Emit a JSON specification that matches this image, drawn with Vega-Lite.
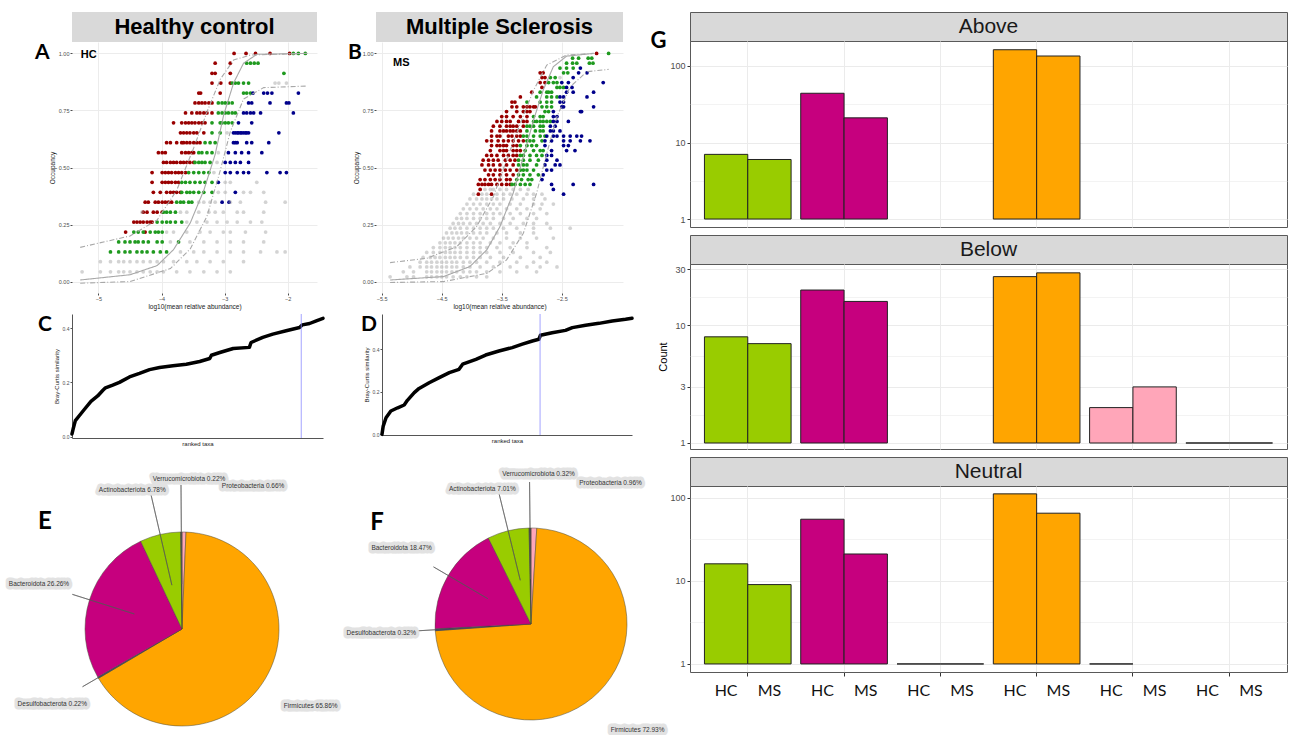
{
"$schema": "https://vega.github.io/schema/vega-lite/v6.json",
"background": "white",
"padding": {"left": 8, "top": 11, "right": 0, "bottom": 0},
"config": {"font": "Liberation Sans", "view": {"stroke": null}, "axis": {"labelFont": "Liberation Sans", "titleFont": "Liberation Sans"}},
"datasets": {
"scA": [
{"o":1,"c":"Above","x":[-2.85,-2.66,-2.51,-2.28,-1.97]},
{"o":1,"c":"Neutral","x":[-1.91,-1.83,-1.72]},
{"o":0.957,"c":"Above","x":[-3.15,-2.91]},
{"o":0.957,"c":"Neutral","x":[-2.65,-2.59,-2.53,-2.47]},
{"o":0.913,"c":"Above","x":[-3.2,-3.15,-2.91]},
{"o":0.913,"c":"Neutral","x":[-2.06]},
{"o":0.87,"c":"Above","x":[-3.2,-3.06,-2.91]},
{"o":0.87,"c":"Neutral","x":[-2.88,-2.83,-2.78,-2.7,-2.62]},
{"o":0.87,"c":"Non-core","x":[-2.2,-2.14,-2.02]},
{"o":0.826,"c":"Above","x":[-3.41,-3.38,-3.07]},
{"o":0.826,"c":"Neutral","x":[-2.7,-2.65,-2.59]},
{"o":0.826,"c":"Below","x":[-2.55,-2.38,-2.32,-2.25,-1.83]},
{"o":0.783,"c":"Above","x":[-3.47,-3.41,-3.36,-3.31,-3.25,-3.2]},
{"o":0.783,"c":"Neutral","x":[-3.1,-3.04,-2.99,-2.94,-2.88]},
{"o":0.783,"c":"Below","x":[-2.62,-2.57,-2.28,-2.02,-1.98]},
{"o":0.739,"c":"Above","x":[-3.62,-3.52,-3.44,-3.39,-3.33,-3.28,-3.2]},
{"o":0.739,"c":"Neutral","x":[-3.1,-3.04,-2.99,-2.94,-2.88,-2.83]},
{"o":0.739,"c":"Below","x":[-2.7,-2.65,-2.59,-2.54,-2.43,-1.91]},
{"o":0.696,"c":"Above","x":[-3.81,-3.68,-3.62,-3.57,-3.52,-3.47,-3.41,-3.36,-3.31]},
{"o":0.696,"c":"Neutral","x":[-3.2,-3.07,-3.04,-2.99,-2.94,-2.88]},
{"o":0.696,"c":"Below","x":[-2.78,-2.57]},
{"o":0.652,"c":"Above","x":[-3.7,-3.65,-3.6,-3.55,-3.49,-3.44,-3.33]},
{"o":0.652,"c":"Neutral","x":[-3.2,-3.07]},
{"o":0.652,"c":"Non-core","x":[-2.96]},
{"o":0.652,"c":"Below","x":[-2.86,-2.83,-2.8,-2.78,-2.75,-2.73,-2.7,-2.67,-2.65,-2.62,-2.14]},
{"o":0.609,"c":"Above","x":[-3.92,-3.86,-3.76,-3.68,-3.65,-3.6,-3.55,-3.49,-3.44,-3.39]},
{"o":0.609,"c":"Neutral","x":[-3.31,-3.23,-3.15]},
{"o":0.609,"c":"Below","x":[-2.86,-2.83,-2.8,-2.65,-2.57,-2.3]},
{"o":0.565,"c":"Above","x":[-4.05,-3.99,-3.94,-3.68,-3.62,-3.57,-3.52,-3.49]},
{"o":0.565,"c":"Neutral","x":[-3.41,-3.36,-3.28,-3.2]},
{"o":0.565,"c":"Non-core","x":[-3.1]},
{"o":0.565,"c":"Below","x":[-2.94,-2.83,-2.73,-2.62,-2.41]},
{"o":0.522,"c":"Above","x":[-3.97,-3.92,-3.86,-3.81,-3.76,-3.7,-3.65,-3.6,-3.55,-3.49]},
{"o":0.522,"c":"Neutral","x":[-3.47,-3.41,-3.36,-3.31,-3.23]},
{"o":0.522,"c":"Non-core","x":[-3.12]},
{"o":0.522,"c":"Below","x":[-2.99,-2.91,-2.83,-2.75,-2.62]},
{"o":0.478,"c":"Above","x":[-4.15,-3.99,-3.94,-3.89,-3.84,-3.78,-3.73,-3.68,-3.62]},
{"o":0.478,"c":"Neutral","x":[-3.57,-3.49,-3.41,-3.33,-3.25]},
{"o":0.478,"c":"Non-core","x":[-3.17]},
{"o":0.478,"c":"Below","x":[-2.99,-2.91,-2.8,-2.7,-2.62,-2.33,-2.12,-2.02]},
{"o":0.435,"c":"Above","x":[-4.15,-3.99,-3.94,-3.89,-3.84,-3.78,-3.73]},
{"o":0.435,"c":"Neutral","x":[-3.68,-3.62,-3.55,-3.47,-3.39,-3.31,-3.2]},
{"o":0.435,"c":"Below","x":[-3.1]},
{"o":0.435,"c":"Non-core","x":[-2.99,-2.91,-2.49]},
{"o":0.391,"c":"Above","x":[-4.13,-4.02,-3.92,-3.86,-3.81,-3.76,-3.7]},
{"o":0.391,"c":"Neutral","x":[-3.68,-3.6,-3.55,-3.49,-3.41,-3.33,-3.2]},
{"o":0.391,"c":"Below","x":[-2.83]},
{"o":0.391,"c":"Non-core","x":[-3.1,-2.99,-2.7,-2.59,-2.38]},
{"o":0.348,"c":"Above","x":[-4.26,-4.21,-4.1,-4.05,-3.99,-3.94,-3.89,-3.84]},
{"o":0.348,"c":"Neutral","x":[-3.76,-3.7,-3.65,-3.57,-3.52]},
{"o":0.348,"c":"Below","x":[-3.04,-2.93]},
{"o":0.348,"c":"Non-core","x":[-3.41,-3.33,-3.23,-3.15,-2.91,-2.75,-2.35,-2.04]},
{"o":0.304,"c":"Above","x":[-4.29,-4.23,-4.13,-4.07,-3.99]},
{"o":0.304,"c":"Neutral","x":[-3.97,-3.92,-3.86,-3.78]},
{"o":0.304,"c":"Non-core","x":[-4.31,-3.7,-3.6,-3.41,-3.25,-3.15,-3.02,-2.8,-2.7,-2.38]},
{"o":0.261,"c":"Above","x":[-4.44,-4.39,-4.34,-4.29,-4.23,-4.18,-4.15]},
{"o":0.261,"c":"Neutral","x":[-4.07,-3.99,-3.92,-3.86,-3.78,-3.68]},
{"o":0.261,"c":"Non-core","x":[-3.6,-3.44,-3.28,-3.12,-2.96,-2.8,-2.59,-2.41]},
{"o":0.217,"c":"Above","x":[-4.57,-4.26]},
{"o":0.217,"c":"Neutral","x":[-4.44,-4.37,-4.29,-4.18,-4.1,-4.05,-3.99]},
{"o":0.217,"c":"Non-core","x":[-3.92,-3.81,-3.6,-3.39,-3.23,-3.02,-2.91,-2.67,-2.35]},
{"o":0.174,"c":"Neutral","x":[-4.68,-4.58,-4.5,-4.42,-4.37,-4.29,-4.21,-4.07,-3.99,-3.73]},
{"o":0.174,"c":"Non-core","x":[-3.86,-3.55,-3.33,-3.12,-2.91,-2.7,-2.38]},
{"o":0.13,"c":"Neutral","x":[-4.81,-4.68,-4.58,-4.5,-4.39,-4.31,-4.23,-4.13,-4.02,-3.92]},
{"o":0.13,"c":"Non-core","x":[-3.7,-3.49,-3.33,-3.12,-2.91,-2.7,-2.43,-2.17,-2.04]},
{"o":0.087,"c":"Non-core","x":[-4.97,-4.81,-4.68,-4.6,-4.5,-4.39,-4.29,-4.18,-4.07,-3.97,-3.81,-3.6,-3.44,-3.23,-3.02,-2.7]},
{"o":0.043,"c":"Non-core","x":[-5.26,-4.97,-4.81,-4.68,-4.6,-4.5,-4.39,-4.29,-4.18,-4.07,-3.97,-3.76,-3.55,-3.33,-3.12,-2.91]}
],
"scB": [
{"o":1,"c":"Above","x":[-1.92]},
{"o":1,"c":"Neutral","x":[-1.72]},
{"o":0.979,"c":"Neutral","x":[-2.32,-2.22,-2.06,-2.0]},
{"o":0.957,"c":"Neutral","x":[-2.42,-2.32,-2.25,-2.04,-1.98]},
{"o":0.936,"c":"Neutral","x":[-2.53,-2.42,-2.31]},
{"o":0.936,"c":"Below","x":[-2.19]},
{"o":0.915,"c":"Above","x":[-2.86,-2.81]},
{"o":0.915,"c":"Neutral","x":[-2.47,-2.4]},
{"o":0.915,"c":"Below","x":[-2.22,-2.08]},
{"o":0.894,"c":"Above","x":[-2.83,-2.78]},
{"o":0.894,"c":"Neutral","x":[-2.69,-2.61]},
{"o":0.894,"c":"Non-core","x":[-2.53]},
{"o":0.894,"c":"Below","x":[-2.31]},
{"o":0.872,"c":"Above","x":[-2.86,-2.78]},
{"o":0.872,"c":"Neutral","x":[-2.72,-2.64,-2.58]},
{"o":0.872,"c":"Below","x":[-2.5,-2.39,-1.81]},
{"o":0.851,"c":"Above","x":[-2.83]},
{"o":0.851,"c":"Neutral","x":[-2.58,-2.53,-2.47]},
{"o":0.851,"c":"Below","x":[-2.42,-2.33]},
{"o":0.83,"c":"Above","x":[-3.0]},
{"o":0.83,"c":"Neutral","x":[-2.86,-2.75,-2.72,-2.67]},
{"o":0.83,"c":"Below","x":[-2.42,-2.31,-1.97]},
{"o":0.809,"c":"Above","x":[-3.19]},
{"o":0.809,"c":"Neutral","x":[-2.92,-2.75,-2.67,-2.58]},
{"o":0.809,"c":"Below","x":[-2.53,-2.47,-2.08]},
{"o":0.787,"c":"Above","x":[-3.33,-3.28]},
{"o":0.787,"c":"Neutral","x":[-3.08,-2.86,-2.75,-2.67]},
{"o":0.787,"c":"Below","x":[-2.53,-2.47]},
{"o":0.766,"c":"Above","x":[-3.33,-3.25,-3.14,-3.08,-3.03,-2.97,-2.94]},
{"o":0.766,"c":"Neutral","x":[-2.83,-2.75,-2.67]},
{"o":0.766,"c":"Below","x":[-2.5,-2.47,-1.97]},
{"o":0.745,"c":"Above","x":[-3.42,-3.25,-3.14,-3.08,-3.03]},
{"o":0.745,"c":"Neutral","x":[-2.78,-2.72]},
{"o":0.745,"c":"Below","x":[-2.64,-2.19,-2.17]},
{"o":0.723,"c":"Above","x":[-3.5,-3.42,-3.31,-3.19,-3.08]},
{"o":0.723,"c":"Neutral","x":[-2.97,-2.86,-2.81]},
{"o":0.723,"c":"Below","x":[-2.64,-2.58]},
{"o":0.702,"c":"Above","x":[-3.58,-3.5,-3.42,-3.36,-3.22,-3.14,-3.08]},
{"o":0.702,"c":"Neutral","x":[-2.97,-2.92,-2.86,-2.81,-2.75,-2.69]},
{"o":0.702,"c":"Below","x":[-2.64,-2.58,-2.39]},
{"o":0.681,"c":"Above","x":[-3.64,-3.53,-3.42,-3.36,-3.31,-3.25,-3.14]},
{"o":0.681,"c":"Neutral","x":[-3.08,-3.03,-2.97,-2.86,-2.81]},
{"o":0.681,"c":"Below","x":[-2.69,-2.61]},
{"o":0.66,"c":"Above","x":[-3.67,-3.53,-3.47,-3.42,-3.36,-3.31,-3.25,-3.19]},
{"o":0.66,"c":"Neutral","x":[-3.08,-2.94,-2.86,-2.81]},
{"o":0.66,"c":"Below","x":[-2.69,-2.64,-2.53]},
{"o":0.638,"c":"Above","x":[-3.67,-3.58,-3.53,-3.39,-3.33,-3.25,-3.19]},
{"o":0.638,"c":"Neutral","x":[-3.14,-3.08,-2.97,-2.86,-2.78]},
{"o":0.638,"c":"Below","x":[-2.75,-2.64,-2.58,-2.47,-2.36,-2.25,-2.17]},
{"o":0.617,"c":"Above","x":[-3.75,-3.67,-3.56,-3.47,-3.39,-3.31,-3.22,-3.14]},
{"o":0.617,"c":"Neutral","x":[-3.08,-3.03,-2.97,-2.83]},
{"o":0.617,"c":"Below","x":[-2.78,-2.67,-2.47,-2.36,-2.19,-2.03]},
{"o":0.596,"c":"Above","x":[-3.67,-3.58,-3.53,-3.47,-3.42,-3.31,-3.25]},
{"o":0.596,"c":"Neutral","x":[-3.19,-3.08,-3.0,-2.92]},
{"o":0.596,"c":"Below","x":[-2.78,-2.47,-2.39]},
{"o":0.574,"c":"Above","x":[-3.69,-3.53,-3.47,-3.42,-3.31,-3.25,-3.19]},
{"o":0.574,"c":"Neutral","x":[-3.11,-2.97,-2.86,-2.81]},
{"o":0.574,"c":"Below","x":[-2.67,-2.42,-2.28]},
{"o":0.553,"c":"Above","x":[-3.75,-3.67,-3.58,-3.47,-3.39,-3.31,-3.25]},
{"o":0.553,"c":"Neutral","x":[-3.19,-3.14,-3.03,-2.92,-2.83]},
{"o":0.553,"c":"Below","x":[-2.75,-2.67]},
{"o":0.532,"c":"Above","x":[-3.81,-3.72,-3.64,-3.56,-3.44,-3.36,-3.28]},
{"o":0.532,"c":"Neutral","x":[-3.22,-3.14,-3.03,-2.89]},
{"o":0.532,"c":"Below","x":[-2.75,-2.58]},
{"o":0.511,"c":"Above","x":[-3.83,-3.72,-3.64,-3.53,-3.42,-3.31]},
{"o":0.511,"c":"Neutral","x":[-3.22,-3.14,-3.08,-2.92]},
{"o":0.511,"c":"Below","x":[-2.78,-2.61,-2.53]},
{"o":0.489,"c":"Above","x":[-3.78,-3.69,-3.61,-3.53,-3.44,-3.36,-3.25]},
{"o":0.489,"c":"Neutral","x":[-3.19,-3.14,-3.08,-2.97]},
{"o":0.489,"c":"Below","x":[-2.75,-2.67]},
{"o":0.468,"c":"Above","x":[-3.72,-3.64,-3.53,-3.42,-3.31]},
{"o":0.468,"c":"Neutral","x":[-3.22,-3.14,-3.03,-2.89]},
{"o":0.468,"c":"Below","x":[-2.81]},
{"o":0.447,"c":"Above","x":[-3.86,-3.78,-3.69,-3.61,-3.53,-3.42,-3.36]},
{"o":0.447,"c":"Neutral","x":[-3.25,-3.17,-3.06,-3.0]},
{"o":0.447,"c":"Below","x":[-2.83]},
{"o":0.426,"c":"Above","x":[-3.89,-3.83,-3.78,-3.72,-3.67,-3.58,-3.5,-3.42,-3.36]},
{"o":0.426,"c":"Neutral","x":[-3.33,-3.28,-3.19,-3.11,-3.03]},
{"o":0.426,"c":"Below","x":[-2.67,-2.31,-1.97]},
{"o":0.404,"c":"Above","x":[-3.86]},
{"o":0.404,"c":"Non-core","x":[-3.78,-3.69,-3.64,-3.53,-3.42,-3.31,-3.19,-3.06]},
{"o":0.404,"c":"Below","x":[-2.64]},
{"o":0.383,"c":"Above","x":[-3.89,-3.67]},
{"o":0.383,"c":"Non-core","x":[-3.97,-3.83,-3.75,-3.58,-3.47,-3.36,-3.25,-3.08,-2.97,-2.83]},
{"o":0.383,"c":"Below","x":[-2.47]},
{"o":0.362,"c":"Non-core","x":[-4.03,-3.92,-3.83,-3.75,-3.67,-3.58,-3.47,-3.33,-3.14,-2.97,-2.78]},
{"o":0.34,"c":"Non-core","x":[-4.08,-3.97,-3.86,-3.75,-3.64,-3.53,-3.36,-3.19,-2.97,-2.83,-2.64]},
{"o":0.319,"c":"Non-core","x":[-4.14,-4.03,-3.92,-3.81,-3.69,-3.58,-3.42,-3.25,-3.08,-2.86]},
{"o":0.298,"c":"Non-core","x":[-4.19,-4.08,-3.97,-3.86,-3.75,-3.64,-3.53,-3.36,-3.19,-2.97,-2.75]},
{"o":0.277,"c":"Non-core","x":[-4.25,-4.17,-4.08,-3.97,-3.86,-3.75,-3.64,-3.47,-3.31,-3.08,-2.92]},
{"o":0.255,"c":"Non-core","x":[-4.31,-4.22,-4.14,-4.03,-3.92,-3.81,-3.69,-3.53,-3.36,-3.14,-2.97,-2.75]},
{"o":0.234,"c":"Non-core","x":[-4.36,-4.28,-4.19,-4.08,-3.97,-3.86,-3.75,-3.64,-3.47,-3.25,-2.97,-2.69,-2.36]},
{"o":0.213,"c":"Non-core","x":[-4.42,-4.33,-4.25,-4.17,-4.08,-3.97,-3.86,-3.75,-3.58,-3.42,-3.19,-2.97]},
{"o":0.191,"c":"Non-core","x":[-4.47,-4.39,-4.31,-4.22,-4.14,-4.03,-3.92,-3.81,-3.64,-3.42,-3.19,-2.92,-2.64]},
{"o":0.17,"c":"Non-core","x":[-4.53,-4.44,-4.36,-4.28,-4.19,-4.08,-3.97,-3.86,-3.69,-3.53,-3.31,-3.08]},
{"o":0.149,"c":"Non-core","x":[-4.64,-4.53,-4.44,-4.36,-4.28,-4.19,-4.08,-3.97,-3.86,-3.75,-3.58,-3.36,-3.08,-2.75]},
{"o":0.128,"c":"Non-core","x":[-4.75,-4.64,-4.53,-4.44,-4.36,-4.28,-4.19,-4.08,-3.97,-3.86,-3.75,-3.53,-3.31,-2.97,-2.69]},
{"o":0.106,"c":"Non-core","x":[-4.81,-4.69,-4.61,-4.53,-4.44,-4.36,-4.28,-4.19,-4.08,-3.97,-3.86,-3.69,-3.47,-3.19,-2.86]},
{"o":0.085,"c":"Non-core","x":[-4.86,-4.75,-4.67,-4.58,-4.5,-4.42,-4.33,-4.25,-4.14,-4.03,-3.92,-3.75,-3.53,-3.25,-2.97,-2.75]},
{"o":0.064,"c":"Non-core","x":[-5.03,-4.86,-4.75,-4.67,-4.58,-4.5,-4.42,-4.33,-4.25,-4.14,-4.03,-3.86,-3.64,-3.36,-3.08,-2.86,-2.58]},
{"o":0.043,"c":"Non-core","x":[-5.14,-4.97,-4.75,-4.67,-4.58,-4.5,-4.42,-4.33,-4.25,-4.14,-4.03,-3.92,-3.75,-3.53,-3.25,-2.92]},
{"o":0.021,"c":"Non-core","x":[-5.36,-5.08,-4.97,-4.75,-4.67,-4.58,-4.5,-4.42,-4.31,-4.19,-4.08,-3.92,-3.75]}
],
"crvA": [
{"s":"fit","x":-5.29,"y":0.007},{"s":"fit","x":-4.5,"y":0.03},{"s":"fit","x":-4.07,"y":0.07},{"s":"fit","x":-3.81,"y":0.14},{"s":"fit","x":-3.545,"y":0.257},{"s":"fit","x":-3.33,"y":0.4},{"s":"fit","x":-3.15,"y":0.557},{"s":"fit","x":-3.016,"y":0.729},{"s":"fit","x":-2.857,"y":0.871},{"s":"fit","x":-2.7,"y":0.957},{"s":"fit","x":-2.487,"y":0.996},{"s":"fit","x":-1.69,"y":1.0},
{"s":"upper","x":-5.29,"y":0.15},{"s":"upper","x":-4.5,"y":0.2},{"s":"upper","x":-4.07,"y":0.27},{"s":"upper","x":-3.76,"y":0.4},{"s":"upper","x":-3.49,"y":0.586},{"s":"upper","x":-3.28,"y":0.743},{"s":"upper","x":-3.07,"y":0.886},{"s":"upper","x":-2.857,"y":0.971},{"s":"upper","x":-2.59,"y":0.993},{"s":"upper","x":-1.69,"y":1.0},
{"s":"lower","x":-5.29,"y":-0.007},{"s":"lower","x":-4.5,"y":0.0},{"s":"lower","x":-3.86,"y":0.057},{"s":"lower","x":-3.545,"y":0.143},{"s":"lower","x":-3.28,"y":0.286},{"s":"lower","x":-3.07,"y":0.486},{"s":"lower","x":-2.91,"y":0.657},{"s":"lower","x":-2.7,"y":0.8},{"s":"lower","x":-2.38,"y":0.85},{"s":"lower","x":-1.69,"y":0.857}
],
"crvB": [
{"s":"fit","x":-5.36,"y":0.007},{"s":"fit","x":-4.47,"y":0.022},{"s":"fit","x":-4.03,"y":0.066},{"s":"fit","x":-3.75,"y":0.139},{"s":"fit","x":-3.53,"y":0.241},{"s":"fit","x":-3.31,"y":0.387},{"s":"fit","x":-3.14,"y":0.547},{"s":"fit","x":-2.97,"y":0.708},{"s":"fit","x":-2.81,"y":0.839},{"s":"fit","x":-2.64,"y":0.942},{"s":"fit","x":-2.42,"y":0.988},{"s":"fit","x":-1.97,"y":1.0},
{"s":"upper","x":-5.36,"y":0.083},{"s":"upper","x":-4.75,"y":0.102},{"s":"upper","x":-4.25,"y":0.153},{"s":"upper","x":-3.92,"y":0.241},{"s":"upper","x":-3.64,"y":0.372},{"s":"upper","x":-3.42,"y":0.533},{"s":"upper","x":-3.19,"y":0.693},{"s":"upper","x":-2.97,"y":0.839},{"s":"upper","x":-2.75,"y":0.949},{"s":"upper","x":-2.42,"y":0.993},{"s":"upper","x":-1.97,"y":1.0},
{"s":"lower","x":-5.36,"y":-0.004},{"s":"lower","x":-4.47,"y":0.0},{"s":"lower","x":-3.75,"y":0.036},{"s":"lower","x":-3.42,"y":0.095},{"s":"lower","x":-3.14,"y":0.212},{"s":"lower","x":-2.92,"y":0.387},{"s":"lower","x":-2.75,"y":0.562},{"s":"lower","x":-2.58,"y":0.723},{"s":"lower","x":-2.36,"y":0.854},{"s":"lower","x":-2.08,"y":0.92},{"s":"lower","x":-1.72,"y":0.93}
],
"pie": [
{"g":"HC","phylum":"Proteobacteria","pct":0.66,"ord":1,"label":"Proteobacteria 0.66%"},
{"g":"HC","phylum":"Firmicutes","pct":65.86,"ord":2,"label":"Firmicutes 65.86%"},
{"g":"HC","phylum":"Desulfobacterota","pct":0.22,"ord":3,"label":"Desulfobacterota 0.22%"},
{"g":"HC","phylum":"Bacteroidota","pct":26.26,"ord":4,"label":"Bacteroidota 26.26%"},
{"g":"HC","phylum":"Actinobacteriota","pct":6.78,"ord":5,"label":"Actinobacteriota 6.78%"},
{"g":"HC","phylum":"Verrucomicrobiota","pct":0.22,"ord":6,"label":"Verrucomicrobiota 0.22%"},
{"g":"MS","phylum":"Proteobacteria","pct":0.96,"ord":1,"label":"Proteobacteria 0.96%"},
{"g":"MS","phylum":"Firmicutes","pct":72.93,"ord":2,"label":"Firmicutes 72.93%"},
{"g":"MS","phylum":"Desulfobacterota","pct":0.32,"ord":3,"label":"Desulfobacterota 0.32%"},
{"g":"MS","phylum":"Bacteroidota","pct":18.47,"ord":4,"label":"Bacteroidota 18.47%"},
{"g":"MS","phylum":"Actinobacteriota","pct":7.01,"ord":5,"label":"Actinobacteriota 7.01%"},
{"g":"MS","phylum":"Verrucomicrobiota","pct":0.32,"ord":6,"label":"Verrucomicrobiota 0.32%"}
],
"cnt": [
{"cls":"Above","phylum":"Actinobacteriota","grp":"HC","n":7},
{"cls":"Above","phylum":"Actinobacteriota","grp":"MS","n":6},
{"cls":"Above","phylum":"Bacteroidota","grp":"HC","n":44},
{"cls":"Above","phylum":"Bacteroidota","grp":"MS","n":21},
{"cls":"Above","phylum":"Firmicutes","grp":"HC","n":163},
{"cls":"Above","phylum":"Firmicutes","grp":"MS","n":135},
{"cls":"Below","phylum":"Actinobacteriota","grp":"HC","n":8},
{"cls":"Below","phylum":"Actinobacteriota","grp":"MS","n":7},
{"cls":"Below","phylum":"Bacteroidota","grp":"HC","n":20},
{"cls":"Below","phylum":"Bacteroidota","grp":"MS","n":16},
{"cls":"Below","phylum":"Firmicutes","grp":"HC","n":26},
{"cls":"Below","phylum":"Firmicutes","grp":"MS","n":28},
{"cls":"Below","phylum":"Proteobacteria","grp":"HC","n":2},
{"cls":"Below","phylum":"Proteobacteria","grp":"MS","n":3},
{"cls":"Below","phylum":"Verrucomicrobiota","grp":"HC","n":1},
{"cls":"Below","phylum":"Verrucomicrobiota","grp":"MS","n":1},
{"cls":"Neutral","phylum":"Actinobacteriota","grp":"HC","n":16},
{"cls":"Neutral","phylum":"Actinobacteriota","grp":"MS","n":9},
{"cls":"Neutral","phylum":"Bacteroidota","grp":"HC","n":55},
{"cls":"Neutral","phylum":"Bacteroidota","grp":"MS","n":21},
{"cls":"Neutral","phylum":"Desulfobacterota","grp":"HC","n":1},
{"cls":"Neutral","phylum":"Desulfobacterota","grp":"MS","n":1},
{"cls":"Neutral","phylum":"Firmicutes","grp":"HC","n":111},
{"cls":"Neutral","phylum":"Firmicutes","grp":"MS","n":65},
{"cls":"Neutral","phylum":"Proteobacteria","grp":"HC","n":1}
]
},
"hconcat": [
{
"vconcat": [
{
"vconcat": [
{
"hconcat": [
{
"vconcat": [
{"width": 245, "height": 30, "view": {"fill": "#d9d9d9", "stroke": null}, "data": {"values": [{"t": "Healthy control"}]}, "mark": {"type": "text", "font": "Liberation Sans", "fontWeight": "bold", "fontSize": 22, "color": "#000"}, "encoding": {"text": {"field": "t"}}},
{"width": 245, "height": 251, "view": {"stroke": null},
"layer": [
{"data": {"name": "scA"}, "transform": [{"flatten": ["x"]}], "mark": {"type": "circle", "size": 14},
"encoding": {
"x": {"field": "x", "type": "quantitative", "scale": {"domain": [-5.42, -1.535], "nice": false, "zero": false}, "axis": {"values": [-5,-4,-3,-2], "format": "d", "title": "log10(mean relative abundance)", "titleFontSize": 6.5, "titleFontWeight": "normal", "titleColor": "#1a1a1a", "titlePadding": 2, "labelFontSize": 5.5, "labelColor": "#4d4d4d", "labelPadding": 1, "tickSize": 2, "tickColor": "#4d4d4d", "domain": false, "grid": true, "gridColor": "#ececec"}},
"y": {"field": "o", "type": "quantitative", "scale": {"domain": [-0.05, 1.05], "nice": false, "zero": false}, "axis": {"values": [0,0.25,0.5,0.75,1], "format": ".2f", "title": "Occupancy", "titleFontSize": 6.5, "titleFontWeight": "normal", "titleColor": "#1a1a1a", "titlePadding": 3, "labelFontSize": 5.5, "labelColor": "#4d4d4d", "labelPadding": 1, "tickSize": 2, "tickColor": "#4d4d4d", "domain": false, "grid": true, "gridColor": "#ececec"}},
"color": {"field": "c", "type": "nominal", "scale": {"domain": ["Above","Neutral","Below","Non-core"], "range": ["#990000","#1f9a1f","#00008b","#9e9e9e"]}, "legend": null},
"opacity": {"condition": {"test": "datum.c === 'Non-core'", "value": 0.45}, "value": 1}
}},
{"data": {"name": "crvA"}, "mark": {"type": "line", "color": "#a8a8a8", "strokeWidth": 1.1},
"encoding": {"x": {"field": "x", "type": "quantitative"}, "y": {"field": "y", "type": "quantitative"},
"strokeDash": {"field": "s", "type": "nominal", "scale": {"domain": ["fit","upper","lower"], "range": [[1,0],[5,2,1,2],[5,2,1,2]]}, "legend": null}}},
{"data": {"values": [{}]}, "mark": {"type": "text", "text": "HC", "font": "Liberation Sans", "fontWeight": "bold", "fontSize": 11, "align": "left", "baseline": "middle"}, "encoding": {"x": {"datum": -5.28, "type": "quantitative"}, "y": {"datum": 0.995, "type": "quantitative"}}},
{"data": {"values": [{}]}, "mark": {"type": "text", "text": "A", "font": "Lato", "fontWeight": "bold", "fontSize": 21, "align": "left", "baseline": "top", "dx": -37}, "encoding": {"x": {"datum": -5.42, "type": "quantitative"}, "y": {"datum": 1.05, "type": "quantitative"}}}
]}
],
"spacing": 0, "bounds": "flush"
},
{
"vconcat": [
{"width": 247, "height": 30, "view": {"fill": "#d9d9d9", "stroke": null}, "data": {"values": [{"t": "Multiple Sclerosis"}]}, "mark": {"type": "text", "font": "Liberation Sans", "fontWeight": "bold", "fontSize": 22, "color": "#000"}, "encoding": {"text": {"field": "t"}}},
{"width": 247, "height": 251, "view": {"stroke": null},
"layer": [
{"data": {"name": "scB"}, "transform": [{"flatten": ["x"]}], "mark": {"type": "circle", "size": 14},
"encoding": {
"x": {"field": "x", "type": "quantitative", "scale": {"domain": [-5.595, -1.48], "nice": false, "zero": false}, "axis": {"values": [-5.5,-4.5,-3.5,-2.5], "format": ".1f", "title": "log10(mean relative abundance)", "titleFontSize": 6.5, "titleFontWeight": "normal", "titleColor": "#1a1a1a", "titlePadding": 2, "labelFontSize": 5.5, "labelColor": "#4d4d4d", "labelPadding": 1, "tickSize": 2, "tickColor": "#4d4d4d", "domain": false, "grid": true, "gridColor": "#ececec"}},
"y": {"field": "o", "type": "quantitative", "scale": {"domain": [-0.05, 1.05], "nice": false, "zero": false}, "axis": {"values": [0,0.25,0.5,0.75,1], "format": ".2f", "title": "Occupancy", "titleFontSize": 6.5, "titleFontWeight": "normal", "titleColor": "#1a1a1a", "titlePadding": 3, "labelFontSize": 5.5, "labelColor": "#4d4d4d", "labelPadding": 1, "tickSize": 2, "tickColor": "#4d4d4d", "domain": false, "grid": true, "gridColor": "#ececec"}},
"color": {"field": "c", "type": "nominal", "scale": {"domain": ["Above","Neutral","Below","Non-core"], "range": ["#990000","#1f9a1f","#00008b","#9e9e9e"]}, "legend": null},
"opacity": {"condition": {"test": "datum.c === 'Non-core'", "value": 0.45}, "value": 1}
}},
{"data": {"name": "crvB"}, "mark": {"type": "line", "color": "#a8a8a8", "strokeWidth": 1.1},
"encoding": {"x": {"field": "x", "type": "quantitative"}, "y": {"field": "y", "type": "quantitative"},
"strokeDash": {"field": "s", "type": "nominal", "scale": {"domain": ["fit","upper","lower"], "range": [[1,0],[5,2,1,2],[5,2,1,2]]}, "legend": null}}},
{"data": {"values": [{}]}, "mark": {"type": "text", "text": "MS", "font": "Liberation Sans", "fontWeight": "bold", "fontSize": 11, "align": "left", "baseline": "middle"}, "encoding": {"x": {"datum": -5.31, "type": "quantitative"}, "y": {"datum": 0.96, "type": "quantitative"}}},
{"data": {"values": [{}]}, "mark": {"type": "text", "text": "B", "font": "Lato", "fontWeight": "bold", "fontSize": 21, "align": "left", "baseline": "top", "dx": -28}, "encoding": {"x": {"datum": -5.595, "type": "quantitative"}, "y": {"datum": 1.05, "type": "quantitative"}}}
]}
],
"spacing": 0, "bounds": "flush"
}
],
"spacing": 31
},
{
"hconcat": [
{"width": 251, "height": 124, "view": {"stroke": null},
"layer": [
{"data": {"values": [{"rank":0,"bc":0.01},{"rank":2,"bc":0.028},{"rank":6,"bc":0.059},{"rank":13,"bc":0.077},{"rank":22,"bc":0.1},{"rank":34,"bc":0.13},{"rank":46,"bc":0.15},{"rank":55,"bc":0.17},{"rank":60,"bc":0.18},{"rank":73,"bc":0.19},{"rank":85,"bc":0.2},{"rank":103,"bc":0.22},{"rank":121,"bc":0.233},{"rank":139,"bc":0.247},{"rank":157,"bc":0.255},{"rank":181,"bc":0.261},{"rank":205,"bc":0.267},{"rank":229,"bc":0.277},{"rank":247,"bc":0.288},{"rank":250,"bc":0.3},{"rank":265,"bc":0.31},{"rank":289,"bc":0.325},{"rank":318,"bc":0.329},{"rank":321,"bc":0.347},{"rank":342,"bc":0.366},{"rank":360,"bc":0.378},{"rank":384,"bc":0.39},{"rank":408,"bc":0.402},{"rank":413,"bc":0.412},{"rank":426,"bc":0.417},{"rank":438,"bc":0.427},{"rank":450,"bc":0.436}]},
"mark": {"type": "line", "color": "#000", "strokeWidth": 3.5, "strokeJoin": "round", "strokeCap": "round"},
"encoding": {
"x": {"field": "rank", "type": "quantitative", "scale": {"domain": [0, 450], "nice": false, "zero": false}, "axis": {"title": "ranked taxa", "labels": false, "ticks": false, "grid": false, "domainColor": "#555", "titleFontSize": 6, "titleFontWeight": "normal", "titleColor": "#1a1a1a", "titlePadding": 2}},
"y": {"field": "bc", "type": "quantitative", "scale": {"domain": [-0.005, 0.452], "nice": false, "zero": false}, "axis": {"title": "Bray-Curtis similarity", "values": [0,0.1,0.2,0.3,0.4], "format": ".1f", "grid": false, "domainColor": "#555", "tickSize": 2, "tickColor": "#555", "labelFontSize": 5, "labelColor": "#4d4d4d", "labelPadding": 1, "titleFontSize": 6, "titleFontWeight": "normal", "titleColor": "#1a1a1a", "titlePadding": 3}}
}},
{"data": {"values": [{"rank": 411}]}, "mark": {"type": "rule", "color": "#8c8cff", "strokeWidth": 0.8}, "encoding": {"x": {"field": "rank", "type": "quantitative"}}},
{"data": {"values": [{}]}, "mark": {"type": "text", "text": "C", "font": "Lato", "fontWeight": "bold", "fontSize": 21, "align": "left", "baseline": "top", "dx": -34}, "encoding": {"x": {"datum": 0, "type": "quantitative"}, "y": {"datum": 0.452, "type": "quantitative"}}}
]},
{"width": 250, "height": 121, "view": {"stroke": null},
"layer": [
{"data": {"values": [{"rank":0,"bc":0.0},{"rank":3,"bc":0.039},{"rank":10,"bc":0.078},{"rank":22,"bc":0.11},{"rank":39,"bc":0.125},{"rank":55,"bc":0.138},{"rank":63,"bc":0.16},{"rank":80,"bc":0.196},{"rank":92,"bc":0.216},{"rank":117,"bc":0.243},{"rank":142,"bc":0.267},{"rank":167,"bc":0.29},{"rank":191,"bc":0.306},{"rank":200,"bc":0.33},{"rank":233,"bc":0.353},{"rank":257,"bc":0.373},{"rank":290,"bc":0.392},{"rank":323,"bc":0.408},{"rank":348,"bc":0.424},{"rank":373,"bc":0.439},{"rank":389,"bc":0.447},{"rank":393,"bc":0.466},{"rank":422,"bc":0.478},{"rank":455,"bc":0.489},{"rank":472,"bc":0.502},{"rank":505,"bc":0.513},{"rank":538,"bc":0.522},{"rank":571,"bc":0.533},{"rank":604,"bc":0.541},{"rank":620,"bc":0.546}]},
"mark": {"type": "line", "color": "#000", "strokeWidth": 3.5, "strokeJoin": "round", "strokeCap": "round"},
"encoding": {
"x": {"field": "rank", "type": "quantitative", "scale": {"domain": [0, 620], "nice": false, "zero": false}, "axis": {"title": "ranked taxa", "labels": false, "ticks": false, "grid": false, "domainColor": "#555", "titleFontSize": 6, "titleFontWeight": "normal", "titleColor": "#1a1a1a", "titlePadding": 2}},
"y": {"field": "bc", "type": "quantitative", "scale": {"domain": [-0.003, 0.566], "nice": false, "zero": false}, "axis": {"title": "Bray-Curtis similarity", "values": [0,0.2,0.4], "format": ".1f", "grid": false, "domainColor": "#555", "tickSize": 2, "tickColor": "#555", "labelFontSize": 5, "labelColor": "#4d4d4d", "labelPadding": 1, "titleFontSize": 6, "titleFontWeight": "normal", "titleColor": "#1a1a1a", "titlePadding": 3}}
}},
{"data": {"values": [{"rank": 392}]}, "mark": {"type": "rule", "color": "#8c8cff", "strokeWidth": 0.8}, "encoding": {"x": {"field": "rank", "type": "quantitative"}}},
{"data": {"values": [{}]}, "mark": {"type": "text", "text": "D", "font": "Lato", "fontWeight": "bold", "fontSize": 21, "align": "left", "baseline": "top", "dx": -21}, "encoding": {"x": {"datum": 0, "type": "quantitative"}, "y": {"datum": 0.566, "type": "quantitative"}}}
]}
],
"spacing": 36
}
],
"spacing": 3
},
{
"hconcat": [
{"width": 220, "height": 220, "view": {"stroke": null},
"layer": [
{"data": {"name": "pie"}, "transform": [{"filter": "datum.g === 'HC'"}], "mark": {"type": "arc", "outerRadius": 97, "stroke": "#4a4a3a", "strokeWidth": 0.5},
"encoding": {"theta": {"field": "pct", "type": "quantitative", "stack": true}, "order": {"field": "ord", "type": "quantitative"},
"fill": {"field": "phylum", "type": "nominal", "scale": {"domain": ["Actinobacteriota","Bacteroidota","Desulfobacterota","Firmicutes","Proteobacteria","Verrucomicrobiota"], "range": ["#99cc00","#c6007e","#1b1b6b","#ffa500","#ffa6b9","#333333"]}, "legend": null}}},
{"data": {"name": "pie"}, "transform": [{"filter": "datum.g === 'HC'"}], "mark": {"type": "arc", "innerRadius": 45, "outerRadius": 144, "padAngle": 3, "fill": "#ffffff", "fillOpacity": 0, "stroke": "#555555", "strokeWidth": 0.6},
"encoding": {"theta": {"field": "pct", "type": "quantitative", "stack": true}, "order": {"field": "ord", "type": "quantitative"},
"strokeOpacity": {"condition": {"test": "datum.phylum === 'Verrucomicrobiota' || datum.phylum === 'Actinobacteriota'", "value": 1}, "value": 0}}},
{"data": {"name": "pie"}, "transform": [{"filter": "datum.g === 'HC'"}], "mark": {"type": "arc", "innerRadius": 50, "outerRadius": 115, "padAngle": 3, "fill": "#ffffff", "fillOpacity": 0, "stroke": "#555555", "strokeWidth": 0.6},
"encoding": {"theta": {"field": "pct", "type": "quantitative", "stack": true}, "order": {"field": "ord", "type": "quantitative"},
"strokeOpacity": {"condition": {"test": "datum.phylum === 'Bacteroidota' || datum.phylum === 'Desulfobacterota'", "value": 1}, "value": 0}}},
{"data": {"name": "pie"}, "transform": [{"filter": "datum.g === 'HC'"}], "mark": {"type": "text", "radius": 150, "fontSize": 6.5, "color": "#e2e2e2", "stroke": "#e2e2e2", "strokeWidth": 7, "strokeJoin": "round"},
"encoding": {"theta": {"field": "pct", "type": "quantitative", "stack": true}, "order": {"field": "ord", "type": "quantitative"},
"text": {"condition": {"test": "datum.phylum === 'Firmicutes' || datum.phylum === 'Bacteroidota' || datum.phylum === 'Desulfobacterota'", "field": "label", "type": "nominal"}, "value": ""}}},
{"data": {"name": "pie"}, "transform": [{"filter": "datum.g === 'HC' && datum.phylum === 'Proteobacteria'"}], "mark": {"type": "text", "radius": 150, "fontSize": 6.5, "color": "#e2e2e2", "stroke": "#e2e2e2", "strokeWidth": 7, "strokeJoin": "round", "dx": 68, "dy": 7},
"encoding": {"theta": {"field": "pct", "type": "quantitative", "stack": true}, "order": {"field": "ord", "type": "quantitative"}, "text": {"field": "label", "type": "nominal"}}},
{"data": {"name": "pie"}, "transform": [{"filter": "datum.g === 'HC'"}], "mark": {"type": "text", "radius": 150, "fontSize": 6.5, "color": "#e2e2e2", "stroke": "#e2e2e2", "strokeWidth": 7, "strokeJoin": "round", "dx": -16, "dy": 7},
"encoding": {"theta": {"field": "pct", "type": "quantitative", "stack": true}, "order": {"field": "ord", "type": "quantitative"},
"text": {"condition": {"test": "datum.phylum === 'Actinobacteriota'", "field": "label", "type": "nominal"}, "value": ""}}},
{"data": {"name": "pie"}, "transform": [{"filter": "datum.g === 'HC'"}], "mark": {"type": "text", "radius": 150, "fontSize": 6.5, "color": "#e2e2e2", "stroke": "#e2e2e2", "strokeWidth": 7, "strokeJoin": "round", "dx": 8},
"encoding": {"theta": {"field": "pct", "type": "quantitative", "stack": true}, "order": {"field": "ord", "type": "quantitative"},
"text": {"condition": {"test": "datum.phylum === 'Verrucomicrobiota'", "field": "label", "type": "nominal"}, "value": ""}}},
{"data": {"name": "pie"}, "transform": [{"filter": "datum.g === 'HC'"}], "mark": {"type": "text", "radius": 150, "fontSize": 6.5, "color": "#333"},
"encoding": {"theta": {"field": "pct", "type": "quantitative", "stack": true}, "order": {"field": "ord", "type": "quantitative"},
"text": {"condition": {"test": "datum.phylum === 'Firmicutes' || datum.phylum === 'Bacteroidota' || datum.phylum === 'Desulfobacterota'", "field": "label", "type": "nominal"}, "value": ""}}},
{"data": {"name": "pie"}, "transform": [{"filter": "datum.g === 'HC' && datum.phylum === 'Proteobacteria'"}], "mark": {"type": "text", "radius": 150, "fontSize": 6.5, "color": "#333", "dx": 68, "dy": 7},
"encoding": {"theta": {"field": "pct", "type": "quantitative", "stack": true}, "order": {"field": "ord", "type": "quantitative"}, "text": {"field": "label", "type": "nominal"}}},
{"data": {"name": "pie"}, "transform": [{"filter": "datum.g === 'HC'"}], "mark": {"type": "text", "radius": 150, "fontSize": 6.5, "color": "#333", "dx": -16, "dy": 7},
"encoding": {"theta": {"field": "pct", "type": "quantitative", "stack": true}, "order": {"field": "ord", "type": "quantitative"},
"text": {"condition": {"test": "datum.phylum === 'Actinobacteriota'", "field": "label", "type": "nominal"}, "value": ""}}},
{"data": {"name": "pie"}, "transform": [{"filter": "datum.g === 'HC'"}], "mark": {"type": "text", "radius": 150, "fontSize": 6.5, "color": "#333", "dx": 8},
"encoding": {"theta": {"field": "pct", "type": "quantitative", "stack": true}, "order": {"field": "ord", "type": "quantitative"},
"text": {"condition": {"test": "datum.phylum === 'Verrucomicrobiota'", "field": "label", "type": "nominal"}, "value": ""}}},
{"data": {"values": [{}]}, "mark": {"type": "text", "text": "E", "font": "Lato", "fontWeight": "bold", "fontSize": 24, "dx": -137, "dy": -107}, "encoding": {}}
]},
{"width": 220, "height": 210, "view": {"stroke": null},
"layer": [
{"data": {"name": "pie"}, "transform": [{"filter": "datum.g === 'MS'"}], "mark": {"type": "arc", "outerRadius": 96, "stroke": "#4a4a3a", "strokeWidth": 0.5},
"encoding": {"theta": {"field": "pct", "type": "quantitative", "stack": true}, "order": {"field": "ord", "type": "quantitative"},
"fill": {"field": "phylum", "type": "nominal", "scale": {"domain": ["Actinobacteriota","Bacteroidota","Desulfobacterota","Firmicutes","Proteobacteria","Verrucomicrobiota"], "range": ["#99cc00","#c6007e","#1b1b6b","#ffa500","#ffa6b9","#333333"]}, "legend": null}}},
{"data": {"name": "pie"}, "transform": [{"filter": "datum.g === 'MS'"}], "mark": {"type": "arc", "innerRadius": 45, "outerRadius": 142, "padAngle": 3, "fill": "#ffffff", "fillOpacity": 0, "stroke": "#555555", "strokeWidth": 0.6},
"encoding": {"theta": {"field": "pct", "type": "quantitative", "stack": true}, "order": {"field": "ord", "type": "quantitative"},
"strokeOpacity": {"condition": {"test": "datum.phylum === 'Verrucomicrobiota' || datum.phylum === 'Actinobacteriota'", "value": 1}, "value": 0}}},
{"data": {"name": "pie"}, "transform": [{"filter": "datum.g === 'MS'"}], "mark": {"type": "arc", "innerRadius": 50, "outerRadius": 113, "padAngle": 3, "fill": "#ffffff", "fillOpacity": 0, "stroke": "#555555", "strokeWidth": 0.6},
"encoding": {"theta": {"field": "pct", "type": "quantitative", "stack": true}, "order": {"field": "ord", "type": "quantitative"},
"strokeOpacity": {"condition": {"test": "datum.phylum === 'Bacteroidota' || datum.phylum === 'Desulfobacterota'", "value": 1}, "value": 0}}},
{"data": {"name": "pie"}, "transform": [{"filter": "datum.g === 'MS'"}], "mark": {"type": "text", "radius": 150, "fontSize": 6.5, "color": "#e2e2e2", "stroke": "#e2e2e2", "strokeWidth": 7, "strokeJoin": "round"},
"encoding": {"theta": {"field": "pct", "type": "quantitative", "stack": true}, "order": {"field": "ord", "type": "quantitative"},
"text": {"condition": {"test": "datum.phylum === 'Firmicutes' || datum.phylum === 'Bacteroidota' || datum.phylum === 'Desulfobacterota'", "field": "label", "type": "nominal"}, "value": ""}}},
{"data": {"name": "pie"}, "transform": [{"filter": "datum.g === 'MS' && datum.phylum === 'Proteobacteria'"}], "mark": {"type": "text", "radius": 150, "fontSize": 6.5, "color": "#e2e2e2", "stroke": "#e2e2e2", "strokeWidth": 7, "strokeJoin": "round", "dx": 75, "dy": 9},
"encoding": {"theta": {"field": "pct", "type": "quantitative", "stack": true}, "order": {"field": "ord", "type": "quantitative"}, "text": {"field": "label", "type": "nominal"}}},
{"data": {"name": "pie"}, "transform": [{"filter": "datum.g === 'MS'"}], "mark": {"type": "text", "radius": 150, "fontSize": 6.5, "color": "#e2e2e2", "stroke": "#e2e2e2", "strokeWidth": 7, "strokeJoin": "round", "dx": -13, "dy": 11},
"encoding": {"theta": {"field": "pct", "type": "quantitative", "stack": true}, "order": {"field": "ord", "type": "quantitative"},
"text": {"condition": {"test": "datum.phylum === 'Actinobacteriota'", "field": "label", "type": "nominal"}, "value": ""}}},
{"data": {"name": "pie"}, "transform": [{"filter": "datum.g === 'MS'"}], "mark": {"type": "text", "radius": 150, "fontSize": 6.5, "color": "#e2e2e2", "stroke": "#e2e2e2", "strokeWidth": 7, "strokeJoin": "round", "dx": 9},
"encoding": {"theta": {"field": "pct", "type": "quantitative", "stack": true}, "order": {"field": "ord", "type": "quantitative"},
"text": {"condition": {"test": "datum.phylum === 'Verrucomicrobiota'", "field": "label", "type": "nominal"}, "value": ""}}},
{"data": {"name": "pie"}, "transform": [{"filter": "datum.g === 'MS'"}], "mark": {"type": "text", "radius": 150, "fontSize": 6.5, "color": "#333"},
"encoding": {"theta": {"field": "pct", "type": "quantitative", "stack": true}, "order": {"field": "ord", "type": "quantitative"},
"text": {"condition": {"test": "datum.phylum === 'Firmicutes' || datum.phylum === 'Bacteroidota' || datum.phylum === 'Desulfobacterota'", "field": "label", "type": "nominal"}, "value": ""}}},
{"data": {"name": "pie"}, "transform": [{"filter": "datum.g === 'MS' && datum.phylum === 'Proteobacteria'"}], "mark": {"type": "text", "radius": 150, "fontSize": 6.5, "color": "#333", "dx": 75, "dy": 9},
"encoding": {"theta": {"field": "pct", "type": "quantitative", "stack": true}, "order": {"field": "ord", "type": "quantitative"}, "text": {"field": "label", "type": "nominal"}}},
{"data": {"name": "pie"}, "transform": [{"filter": "datum.g === 'MS'"}], "mark": {"type": "text", "radius": 150, "fontSize": 6.5, "color": "#333", "dx": -13, "dy": 11},
"encoding": {"theta": {"field": "pct", "type": "quantitative", "stack": true}, "order": {"field": "ord", "type": "quantitative"},
"text": {"condition": {"test": "datum.phylum === 'Actinobacteriota'", "field": "label", "type": "nominal"}, "value": ""}}},
{"data": {"name": "pie"}, "transform": [{"filter": "datum.g === 'MS'"}], "mark": {"type": "text", "radius": 150, "fontSize": 6.5, "color": "#333", "dx": 9},
"encoding": {"theta": {"field": "pct", "type": "quantitative", "stack": true}, "order": {"field": "ord", "type": "quantitative"},
"text": {"condition": {"test": "datum.phylum === 'Verrucomicrobiota'", "field": "label", "type": "nominal"}, "value": ""}}},
{"data": {"values": [{}]}, "mark": {"type": "text", "text": "F", "font": "Lato", "fontWeight": "bold", "fontSize": 24, "dx": -154, "dy": -101}, "encoding": {}}
]}
],
"spacing": 8
}
],
"spacing": 25
},
{
"vconcat": [
{
"vconcat": [
{"width": 597, "height": 29, "view": {"fill": "#d9d9d9", "stroke": "#595959"}, "data": {"values": [{"t": "Above"}]}, "mark": {"type": "text", "font": "Liberation Sans Narrow, Liberation Sans", "fontSize": 21, "color": "#1a1a1a"}, "encoding": {"text": {"field": "t"}}},
{"width": 597, "height": 186, "view": {"stroke": "#595959"},
"layer": [
{"data": {"name": "cnt"}, "transform": [{"filter": "datum.cls === 'Above'"}], "mark": {"type": "bar", "stroke": "#222", "strokeWidth": 1},
"encoding": {
"x": {"field": "phylum", "type": "nominal", "scale": {"domain": ["Actinobacteriota","Bacteroidota","Desulfobacterota","Firmicutes","Proteobacteria","Verrucomicrobiota"], "paddingInner": 0.1, "paddingOuter": 0.15}, "axis": {"title": null, "labels": false, "ticks": false, "domain": false, "grid": true, "gridColor": "#ebebeb", "bandPosition": 0.5}},
"xOffset": {"field": "grp", "type": "nominal", "scale": {"domain": ["HC","MS"], "paddingInner": 0, "paddingOuter": 0}},
"y": {"field": "n", "type": "quantitative", "scale": {"type": "log", "domain": [0.787, 212], "nice": false}, "axis": {"title": null, "values": [1, 3.162, 10, 31.62, 100], "labelExpr": "datum.value == 1 || datum.value == 10 || datum.value == 100 ? datum.value + '' : ''", "gridColor": "#ebebeb", "gridWidth": {"condition": {"test": "datum.value == 1 || datum.value == 10 || datum.value == 100", "value": 1.2}, "value": 0.6}, "tickOpacity": {"condition": {"test": "datum.value == 1 || datum.value == 10 || datum.value == 100", "value": 1}, "value": 0}, "tickSize": 3, "tickColor": "#333", "labelFontSize": 9, "labelColor": "#4d4d4d", "labelPadding": 2, "domain": false}},
"y2": {"datum": 1},
"fill": {"field": "phylum", "type": "nominal", "scale": {"domain": ["Actinobacteriota","Bacteroidota","Desulfobacterota","Firmicutes","Proteobacteria","Verrucomicrobiota"], "range": ["#99cc00","#c6007e","#1b1b6b","#ffa500","#ffa6b9","#333333"]}, "legend": null}
}},
{"data": {"values": [{}]}, "mark": {"type": "text", "text": "G", "font": "Lato", "fontWeight": "bold", "fontSize": 22, "dx": -330, "baseline": "middle"}, "encoding": {"y": {"datum": 212, "type": "quantitative"}}}
]}
],
"spacing": 0, "bounds": "flush"
},
{
"vconcat": [
{"width": 597, "height": 29, "view": {"fill": "#d9d9d9", "stroke": "#595959"}, "data": {"values": [{"t": "Below"}]}, "mark": {"type": "text", "font": "Liberation Sans Narrow, Liberation Sans", "fontSize": 21, "color": "#1a1a1a"}, "encoding": {"text": {"field": "t"}}},
{"width": 597, "height": 185, "view": {"stroke": "#595959"},
"data": {"name": "cnt"}, "transform": [{"filter": "datum.cls === 'Below'"}], "mark": {"type": "bar", "stroke": "#222", "strokeWidth": 1},
"encoding": {
"x": {"field": "phylum", "type": "nominal", "scale": {"domain": ["Actinobacteriota","Bacteroidota","Desulfobacterota","Firmicutes","Proteobacteria","Verrucomicrobiota"], "paddingInner": 0.1, "paddingOuter": 0.15}, "axis": {"title": null, "labels": false, "ticks": false, "domain": false, "grid": true, "gridColor": "#ebebeb", "bandPosition": 0.5}},
"xOffset": {"field": "grp", "type": "nominal", "scale": {"domain": ["HC","MS"], "paddingInner": 0, "paddingOuter": 0}},
"y": {"field": "n", "type": "quantitative", "scale": {"type": "log", "domain": [0.889, 33.3], "nice": false}, "axis": {"title": "Count", "titleFontSize": 11, "titleFontWeight": "normal", "titleColor": "#000", "titlePadding": 6, "values": [1, 1.732, 3, 5.477, 10, 17.32, 30], "labelExpr": "datum.value == 1 || datum.value == 3 || datum.value == 10 || datum.value == 30 ? datum.value + '' : ''", "gridColor": "#ebebeb", "gridWidth": {"condition": {"test": "datum.value == 1 || datum.value == 3 || datum.value == 10 || datum.value == 30", "value": 1.2}, "value": 0.6}, "tickOpacity": {"condition": {"test": "datum.value == 1 || datum.value == 3 || datum.value == 10 || datum.value == 30", "value": 1}, "value": 0}, "tickSize": 3, "tickColor": "#333", "labelFontSize": 9, "labelColor": "#4d4d4d", "labelPadding": 2, "domain": false}},
"y2": {"datum": 1},
"fill": {"field": "phylum", "type": "nominal", "scale": {"domain": ["Actinobacteriota","Bacteroidota","Desulfobacterota","Firmicutes","Proteobacteria","Verrucomicrobiota"], "range": ["#99cc00","#c6007e","#1b1b6b","#ffa500","#ffa6b9","#333333"]}, "legend": null}
}}
],
"spacing": 0, "bounds": "flush"
},
{
"vconcat": [
{"width": 597, "height": 29, "view": {"fill": "#d9d9d9", "stroke": "#595959"}, "data": {"values": [{"t": "Neutral"}]}, "mark": {"type": "text", "font": "Liberation Sans Narrow, Liberation Sans", "fontSize": 21, "color": "#1a1a1a"}, "encoding": {"text": {"field": "t"}}},
{"width": 597, "height": 186, "view": {"stroke": "#595959"},
"data": {"name": "cnt"}, "transform": [{"filter": "datum.cls === 'Neutral'"}], "mark": {"type": "bar", "stroke": "#222", "strokeWidth": 1},
"encoding": {
"x": {"field": "phylum", "type": "nominal", "scale": {"domain": ["Actinobacteriota","Bacteroidota","Desulfobacterota","Firmicutes","Proteobacteria","Verrucomicrobiota"], "paddingInner": 0.1, "paddingOuter": 0.15}, "axis": {"title": null, "labels": false, "ticks": true, "tickSize": 4, "tickColor": "#333", "domain": false, "grid": true, "gridColor": "#ebebeb", "bandPosition": 0.5}},
"xOffset": {"field": "grp", "type": "nominal", "scale": {"domain": ["HC","MS"], "paddingInner": 0, "paddingOuter": 0}},
"y": {"field": "n", "type": "quantitative", "scale": {"type": "log", "domain": [0.8, 138], "nice": false}, "axis": {"title": null, "values": [1, 3.162, 10, 31.62, 100], "labelExpr": "datum.value == 1 || datum.value == 10 || datum.value == 100 ? datum.value + '' : ''", "gridColor": "#ebebeb", "gridWidth": {"condition": {"test": "datum.value == 1 || datum.value == 10 || datum.value == 100", "value": 1.2}, "value": 0.6}, "tickOpacity": {"condition": {"test": "datum.value == 1 || datum.value == 10 || datum.value == 100", "value": 1}, "value": 0}, "tickSize": 3, "tickColor": "#333", "labelFontSize": 9, "labelColor": "#4d4d4d", "labelPadding": 2, "domain": false}},
"y2": {"datum": 1},
"fill": {"field": "phylum", "type": "nominal", "scale": {"domain": ["Actinobacteriota","Bacteroidota","Desulfobacterota","Firmicutes","Proteobacteria","Verrucomicrobiota"], "range": ["#99cc00","#c6007e","#1b1b6b","#ffa500","#ffa6b9","#333333"]}, "legend": null}
}}
],
"spacing": 0, "bounds": "flush"
},
{"width": 597, "height": 12, "view": {"stroke": null}, "data": {"name": "pie"},
"mark": {"type": "text", "font": "Lato", "fontSize": 16, "color": "#111", "baseline": "middle"},
"encoding": {
"x": {"field": "phylum", "type": "nominal", "scale": {"domain": ["Actinobacteriota","Bacteroidota","Desulfobacterota","Firmicutes","Proteobacteria","Verrucomicrobiota"], "paddingInner": 0.1, "paddingOuter": 0.15}, "axis": null},
"xOffset": {"field": "g", "type": "nominal", "scale": {"domain": ["HC","MS"], "paddingInner": 0, "paddingOuter": 0}},
"text": {"field": "g", "type": "nominal"}
}}
],
"spacing": 6
}
],
"spacing": -23
}
